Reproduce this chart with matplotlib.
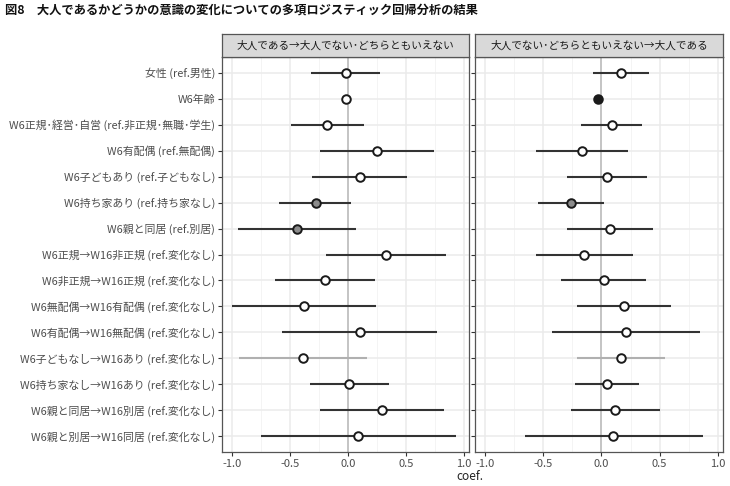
import matplotlib
matplotlib.use("Agg")
import matplotlib.pyplot as plt
from matplotlib.ticker import MultipleLocator

plt.rcParams['font.family'] = ['Noto Sans CJK JP', 'DejaVu Sans']

labels = [
    "女性 (ref.男性)",
    "W6年齢",
    "W6正規･経営･自営 (ref.非正規･無職･学生)",
    "W6有配偶 (ref.無配偶)",
    "W6子どもあり (ref.子どもなし)",
    "W6持ち家あり (ref.持ち家なし)",
    "W6親と同居 (ref.別居)",
    "W6正規→W16非正規 (ref.変化なし)",
    "W6非正規→W16正規 (ref.変化なし)",
    "W6無配偶→W16有配偶 (ref.変化なし)",
    "W6有配偶→W16無配偶 (ref.変化なし)",
    "W6子どもなし→W16あり (ref.変化なし)",
    "W6持ち家なし→W16あり (ref.変化なし)",
    "W6親と同居→W16別居 (ref.変化なし)",
    "W6親と別居→W16同居 (ref.変化なし)",
]

panel_titles = ["大人である→大人でない･どちらともいえない",
                "大人でない･どちらともいえない→大人である"]

# Left panel
coef1 = [-0.02, -0.015, -0.18, 0.25, 0.10, -0.28, -0.44, 0.33, -0.20, -0.38, 0.10, -0.39, 0.01, 0.29, 0.09]
low1  = [-0.32, -0.03, -0.49, -0.24, -0.31, -0.60, -0.95, -0.19, -0.63, -1.00, -0.57, -0.94, -0.33, -0.24, -0.75]
high1 = [0.28, 0.00, 0.14, 0.74, 0.51, 0.03, 0.07, 0.85, 0.23, 0.24, 0.77, 0.16, 0.35, 0.83, 0.93]
sig1  = ["ns", "ns", "ns", "ns", "ns", "p05", "p05", "ns", "ns", "ns", "ns", "ns", "ns", "ns", "ns"]

# Right panel
coef2 = [0.17, -0.03, 0.09, -0.17, 0.05, -0.26, 0.07, -0.15, 0.02, 0.19, 0.21, 0.17, 0.05, 0.12, 0.10]
low2  = [-0.07, -0.04, -0.18, -0.56, -0.30, -0.545, -0.30, -0.56, -0.35, -0.21, -0.43, -0.21, -0.23, -0.26, -0.66]
high2 = [0.405, -0.02, 0.35, 0.23, 0.39, 0.023, 0.44, 0.27, 0.38, 0.60, 0.845, 0.55, 0.325, 0.50, 0.87]
sig2  = ["ns", "p01", "ns", "ns", "ns", "p05", "ns", "ns", "ns", "ns", "ns", "ns", "ns", "ns", "ns"]

xticks = [-1.0, -0.5, 0.0, 0.5, 1.0]
fills = {"ns": "white", "p05": "#8c8c8c", "p01": "#1a1a1a"}

W, H = 730, 486
fig = plt.figure(figsize=(W / 100, H / 100), dpi=100)

fig.text(5 / W, 1 - 10 / H, "図8　大人であるかどうかの意識の変化についての多項ロジスティック回帰分析の結果",
         fontsize=8.85, fontweight='bold', va='center', ha='left', color='#111111')

panels = [(222, 469), (475, 723)]
top, bottom, strip_top = 57, 452, 34
data = [(coef1, low1, high1, sig1), (coef2, low2, high2, sig2)]
n = len(labels)
ys = list(range(n))

for i, ((x0, x1), (c, lo, hi, sg)) in enumerate(zip(panels, data)):
    ax = fig.add_axes([x0 / W, 1 - bottom / H, (x1 - x0) / W, (bottom - top) / H])
    ax.set_xlim(-1.088, 1.045)
    ax.set_ylim(n - 1 + 0.6, -0.6)
    ax.xaxis.set_major_locator(MultipleLocator(0.5))
    ax.xaxis.set_minor_locator(MultipleLocator(0.25))
    ax.grid(True, which='major', color='#ebebeb', lw=1.1, zorder=0)
    ax.grid(True, which='minor', axis='x', color='#f2f2f2', lw=0.6, zorder=0)
    ax.set_axisbelow(True)
    ax.axvline(0, color='#bdbdbd', lw=1.2, zorder=1)
    for j in ys:
        col = '#b0b0b0' if j == 11 else '#333333'
        ax.plot([lo[j], hi[j]], [j, j], color=col, lw=1.5, solid_capstyle='butt', zorder=2)
        ax.scatter([c[j]], [j], s=38, facecolor=fills[sg[j]], edgecolor='#1a1a1a',
                   linewidth=1.4, zorder=3)
    ax.set_xticks(xticks)
    ax.set_xticklabels([f"{v:.1f}" for v in xticks], fontsize=8, color='#4d4d4d')
    ax.set_yticks(ys)
    if i == 0:
        ax.set_yticklabels(labels, fontsize=7.85, color='#4d4d4d')
    else:
        ax.set_yticklabels([])
        ax.tick_params(axis='y', length=0)
    ax.tick_params(axis='both', which='major', length=3, width=0.8, color='#333333', pad=2)
    ax.tick_params(axis='x', which='minor', length=0)
    for sp in ax.spines.values():
        sp.set_color('#555555')
        sp.set_linewidth(0.9)
    # strip
    sax = fig.add_axes([x0 / W, 1 - top / H, (x1 - x0) / W, (top - strip_top) / H])
    sax.set_facecolor('#d9d9d9')
    sax.set_xticks([])
    sax.set_yticks([])
    for sp in sax.spines.values():
        sp.set_color('#555555')
        sp.set_linewidth(0.9)
    sax.text(0.5, 0.5, panel_titles[i], ha='center', va='center', fontsize=7.65,
             color='#1a1a1a', transform=sax.transAxes)

fig.text(470 / W, 1 - 476 / H, "coef.", ha='center', va='center', fontsize=8.5, color='#222222')

fig.savefig("out.png", dpi=100)
